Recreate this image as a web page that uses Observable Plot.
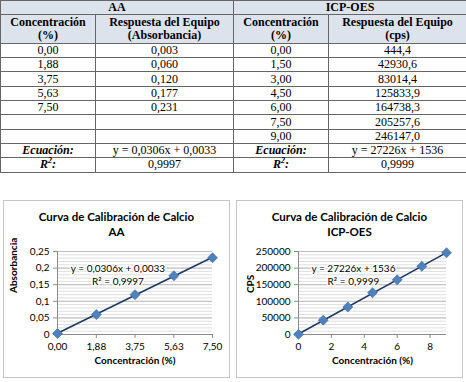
<!DOCTYPE html>
<html>
<head>
<meta charset="utf-8">
<script src="https://cdn.jsdelivr.net/npm/d3@7"></script>
<script src="https://cdn.jsdelivr.net/npm/@observablehq/plot@0.6"></script>
<style>
  html, body { margin: 0; padding: 0; background: #fff; }
  #page { position: relative; width: 466px; height: 382px; overflow: hidden; }
  #tbl {
    position: absolute; left: 0; top: 0; width: 466px;
    border-collapse: collapse; table-layout: fixed;
    font-family: "Liberation Serif", "Times New Roman", serif; font-size: 12px; color: #000;
  }
  #tbl td { border: 1px solid #666; padding: 0; text-align: center; line-height: 13px; height: 13.3px; }
  #tbl tr.head td { background: #dce3ed; font-weight: bold; }
  #tbl tr.h2 td { height: 27.6px; }
  #tbl td.lab { font-weight: bold; font-style: italic; }
  .panel {
    position: absolute; top: 200px; width: 227px; height: 178px; box-sizing: border-box;
    border: 1px solid #c6c6c6; background: #fff;
  }
  .panel .title {
    position: absolute; top: 8px; left: 0; right: 0; text-align: center;
    font-family: Lato, sans-serif; font-weight: bold; font-size: 11.5px; line-height: 15px; color: #000;
  }
  .panel svg { position: absolute; top: 44px; left: 0; }
</style>
</head>
<body>
<div id="page">
  <table id="tbl"></table>
  <div class="panel" id="panelAA" style="left:3px"></div>
  <div class="panel" id="panelICP" style="left:236px"></div>
</div>
<script>
// Calibration data: calcium standards measured by AA and by ICP-OES
const aaConc = [0.00, 1.88, 3.75, 5.63, 7.50];
const aaAbs = [0.003, 0.060, 0.120, 0.177, 0.231];
const aaFit = [0.0306, 0.0033];     // slope, intercept
const aaR2 = 0.9997;

const icpConc = [0.00, 1.50, 3.00, 4.50, 6.00, 7.50, 9.00];
const icpCps = [444.4, 42930.6, 83014.4, 125833.9, 164738.3, 205257.6, 246147.0];
const icpFit = [27226, 1536];       // slope, intercept
const icpR2 = 0.9999;

// Axis ticks
const aaXTicks = [0.00, 1.88, 3.75, 5.63, 7.50];
const aaYTicks = [0, 0.05, 0.1, 0.15, 0.2, 0.25];
const icpXTicks = [0, 2, 4, 6, 8];
const icpYTicks = [0, 50000, 100000, 150000, 200000, 250000];

const comma = (v, d) => (d == null ? String(v) : v.toFixed(d)).replace(".", ",");
const eqText = (fit, d) => `y = ${comma(fit[0], d)}x + ${comma(fit[1], d)}`;

// ---- Table ----
const tbl = document.getElementById("tbl");
const cg = document.createElement("colgroup");
[95, 138, 95, 138].forEach(w => { const c = document.createElement("col"); c.style.width = w + "px"; cg.appendChild(c); });
tbl.appendChild(cg);

function addRow(cells, cls) {
  const tr = document.createElement("tr");
  if (cls) tr.className = cls;
  cells.forEach(c => {
    const td = document.createElement("td");
    if (typeof c === "object") {
      td.innerHTML = c.html;
      if (c.span) td.colSpan = c.span;
      if (c.cls) td.className = c.cls;
    } else td.textContent = c;
    tr.appendChild(td);
  });
  tbl.appendChild(tr);
}
addRow([{ html: "AA", span: 2 }, { html: "ICP-OES", span: 2 }], "head");
addRow([
  { html: "Concentración<br>(%)" }, { html: "Respuesta del Equipo<br>(Absorbancia)" },
  { html: "Concentración<br>(%)" }, { html: "Respuesta del Equipo<br>(cps)" }
], "head h2");
for (let i = 0; i < icpConc.length; i++) {
  addRow([
    i < aaConc.length ? comma(aaConc[i], 2) : "",
    i < aaAbs.length ? comma(aaAbs[i], 3) : "",
    comma(icpConc[i], 2),
    comma(icpCps[i], 1)
  ]);
}
const r2Label = "R<sup style='font-size:8px;vertical-align:5px;line-height:0'>2</sup>:";
addRow([{ html: "Ecuación:", cls: "lab" }, eqText(aaFit, 4), { html: "Ecuación:", cls: "lab" }, eqText(icpFit, 0)]);
addRow([{ html: r2Label, cls: "lab" }, comma(aaR2, 4), { html: r2Label, cls: "lab" }, comma(icpR2, 4)]);

// ---- Charts ----
function chart(el, o) {
  const pts = o.x.map((x, i) => ({ x, y: o.y[i] }));
  const title = document.createElement("div");
  title.className = "title";
  title.innerHTML = o.title.join("<br>");
  el.appendChild(title);
  const svg = Plot.plot({
    width: 225, height: 132,
    marginLeft: o.ml, marginRight: o.mr, marginTop: 6, marginBottom: 43,
    style: { fontFamily: "Lato, sans-serif", fontSize: "10px", color: "#000", background: "transparent", overflow: "visible" },
    x: { domain: o.xDomain },
    y: { domain: o.yDomain },
    marks: [
      Plot.gridY({ ticks: 25, stroke: "#dedede", strokeOpacity: 1 }),
      Plot.gridY(o.yTicks, { stroke: "#bdbdbd", strokeOpacity: 1 }),
      Plot.ruleX([o.xDomain[0]], { stroke: "#8c8c8c" }),
      Plot.ruleY([o.yDomain[0]], { stroke: "#8c8c8c" }),
      Plot.axisY({ ticks: o.yTicks, tickFormat: o.yFormat, tickSize: 4, tickPadding: 4, label: null, stroke: "#8c8c8c" }),
      Plot.axisX({ ticks: o.xTicks, tickFormat: o.xFormat, tickSize: 4, tickPadding: 4, label: null, stroke: "#8c8c8c" }),
      Plot.text([o.yLabel], { text: d => d, frameAnchor: "left", rotate: -90, dx: o.yLabelDx, fontWeight: "bold" }),
      Plot.text(["Concentración (%)"], { text: d => d, frameAnchor: "bottom", dy: 29, fontWeight: "bold" }),
      Plot.linearRegressionY(pts, { x: "x", y: "y", ci: 0, stroke: "#1f3864", strokeWidth: 1.6 }),
      Plot.dot(pts, { x: "x", y: "y", symbol: "diamond2", r: 4.5, fill: "#4f81bd", stroke: "#3b67a0", strokeWidth: 0.6 }),
      Plot.text([o.eq], { text: d => d, frameAnchor: "top-left", textAnchor: "middle", lineAnchor: "middle",
        dx: o.eqDx, dy: 22.5, lineHeight: 1.3, fill: "#000", stroke: "#fff", strokeWidth: 3 })
    ]
  });
  el.appendChild(svg);
}

chart(document.getElementById("panelAA"), {
  title: ["Curva de Calibración de Calcio", "AA"],
  x: aaConc, y: aaAbs,
  xDomain: [0, 7.5], yDomain: [0, 0.25],
  xTicks: aaXTicks, xFormat: d => comma(d, 2),
  yTicks: aaYTicks, yFormat: d => comma(d),
  ml: 53, mr: 17,
  yLabel: "Absorbancia", yLabelDx: -44,
  eq: `${eqText(aaFit, 4)}\nR² = ${comma(aaR2, 4)}`, eqDx: 60.5
});

chart(document.getElementById("panelICP"), {
  title: ["Curva de Calibración de Calcio", "ICP-OES"],
  x: icpConc, y: icpCps,
  xDomain: [0, 9], yDomain: [0, 250000],
  xTicks: icpXTicks, xFormat: d => String(d),
  yTicks: icpYTicks, yFormat: d => String(d),
  ml: 61, mr: 16,
  yLabel: "CPS", yLabelDx: -48,
  eq: `${eqText(icpFit, 0)}\nR² = ${comma(icpR2, 4)}`, eqDx: 55
});
</script>
</body>
</html>
